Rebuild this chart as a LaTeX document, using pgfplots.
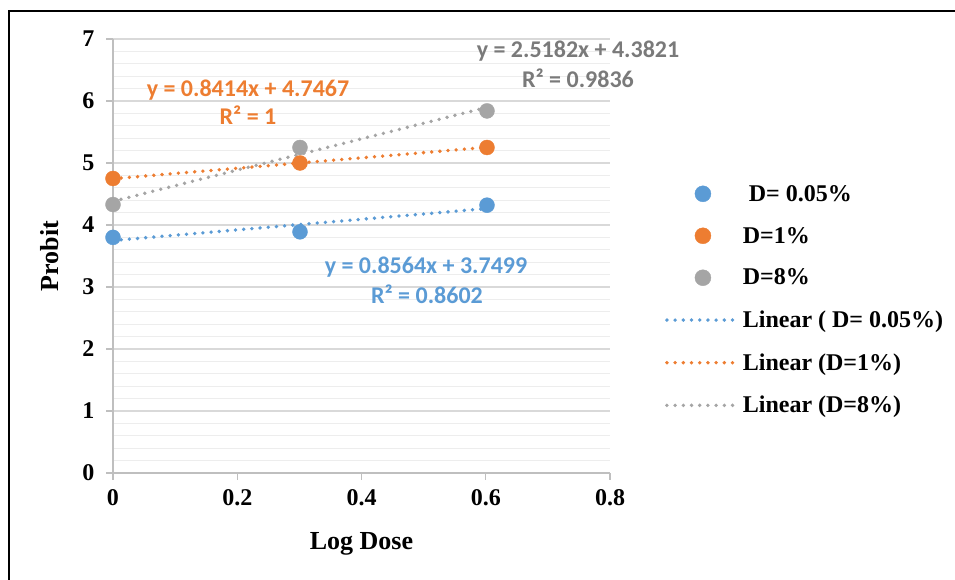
\documentclass[border=0pt]{standalone}
\usepackage{pgfplots}
\pgfplotsset{compat=1.18}
\usepackage{fontspec}
\setmainfont{Liberation Serif}
\newfontfamily\calibri{Carlito}
\definecolor{cB}{HTML}{5B9BD5}
\definecolor{cO}{HTML}{ED7D31}
\definecolor{cG}{HTML}{A5A5A5}
\definecolor{cGt}{HTML}{7A7A7A}
\definecolor{axisC}{HTML}{BFBFBF}
\definecolor{gridC}{HTML}{D9D9D9}
\definecolor{minorC}{HTML}{EDEDED}
\tikzset{trend/.style={line width=3.8pt, line cap=round, dash pattern=on 0pt off 8.2pt}}
\begin{document}
\begin{tikzpicture}[x=1pt,y=1pt]
\useasboundingbox (0,0) rectangle (955,580);
\draw[line width=2pt] (9,0) -- (9,569) -- (956,569);
\begin{axis}[
  at={(113pt,107pt)}, anchor=south west, scale only axis,
  width=497pt, height=434pt,
  xmin=0, xmax=0.8, ymin=0, ymax=7,
  axis x line=bottom, axis y line=left,
  axis line style={-, draw=axisC, line width=1.5pt},
  xtick={0,0.2,0.4,0.6,0.8}, ytick={0,1,2,3,4,5,6,7},
  minor y tick num=4, minor tick length=0pt,
  tick align=outside, major tick length=7pt,
  tick style={draw=axisC, line width=1.2pt},
  ymajorgrids, yminorgrids,
  major grid style={draw=gridC, line width=1.3pt},
  minor grid style={draw=minorC, line width=1.3pt},
  /pgf/number format/assume math mode=true,
  ticklabel style={font=\bfseries\fontsize{24}{24}\selectfont},
  yticklabel style={xshift=-8pt},
  xticklabel style={yshift=-6pt},
  xlabel={Log Dose}, ylabel={Probit},
  xlabel style={at={(axis cs:0.4,-1.226)}, anchor=base, font=\bfseries\fontsize{26}{26}\selectfont},
  ylabel style={at={(axis cs:-0.0885,3.5)}, anchor=base, rotate=0, font=\bfseries\fontsize{26}{26}\selectfont},
  clip=false,
  legend cell align=left,
  legend style={draw=none, fill=none, at={(1.1107,0.668)}, anchor=north west,
    inner sep=0pt, outer sep=0pt, row sep=20.5pt, column sep=0pt,
    nodes={inner sep=2pt},
    font=\bfseries\fontsize{24}{24}\selectfont},
]
\addplot[only marks, mark=*, mark size=7.5pt, mark options={draw=cB, fill=cB},
  legend image code/.code={\fill[cB] (36pt,0pt) circle (8pt);}]
  coordinates {(0,3.80) (0.301,3.89) (0.602,4.32)};
\addlegendentry{\ D= 0.05\%}
\addplot[only marks, mark=*, mark size=7.5pt, mark options={draw=cO, fill=cO},
  legend image code/.code={\fill[cO] (36pt,0pt) circle (8pt);}]
  coordinates {(0,4.75) (0.301,5.00) (0.602,5.25)};
\addlegendentry{D=1\%}
\addplot[only marks, mark=*, mark size=7.5pt, mark options={draw=cG, fill=cG},
  legend image code/.code={\fill[cG] (36pt,0pt) circle (8pt);}]
  coordinates {(0,4.33) (0.301,5.25) (0.602,5.84)};
\addlegendentry{D=8\%}
\addplot[cB, trend, no marks,
  legend image code/.code={\draw[cB, trend] (0pt,0pt) -- (72pt,0pt);}]
  coordinates {(0,3.7499) (0.602,4.2655)};
\addlegendentry{Linear ( D= 0.05\%)}
\addplot[cO, trend, no marks,
  legend image code/.code={\draw[cO, trend] (0pt,0pt) -- (72pt,0pt);}]
  coordinates {(0,4.7467) (0.602,5.2532)};
\addlegendentry{Linear (D=1\%)}
\addplot[cG, trend, no marks,
  legend image code/.code={\draw[cG, trend] (0pt,0pt) -- (72pt,0pt);}]
  coordinates {(0,4.3821) (0.602,5.8981)};
\addlegendentry{Linear (D=8\%)}
\end{axis}
\begin{scope}[every node/.style={anchor=base, inner sep=0pt, font=\calibri\bfseries\fontsize{24}{24}\selectfont}]
\node[text=cGt] at (578,522) {y = 2.5182x + 4.3821};
\node[text=cGt] at (578,492) {R² = 0.9836};
\node[text=cO] at (248,483) {y = 0.8414x + 4.7467};
\node[text=cO] at (248,455) {R² = 1};
\node[text=cB] at (426,306) {y = 0.8564x + 3.7499};
\node[text=cB] at (427,276) {R² = 0.8602};
\end{scope}
\end{tikzpicture}
\end{document}
